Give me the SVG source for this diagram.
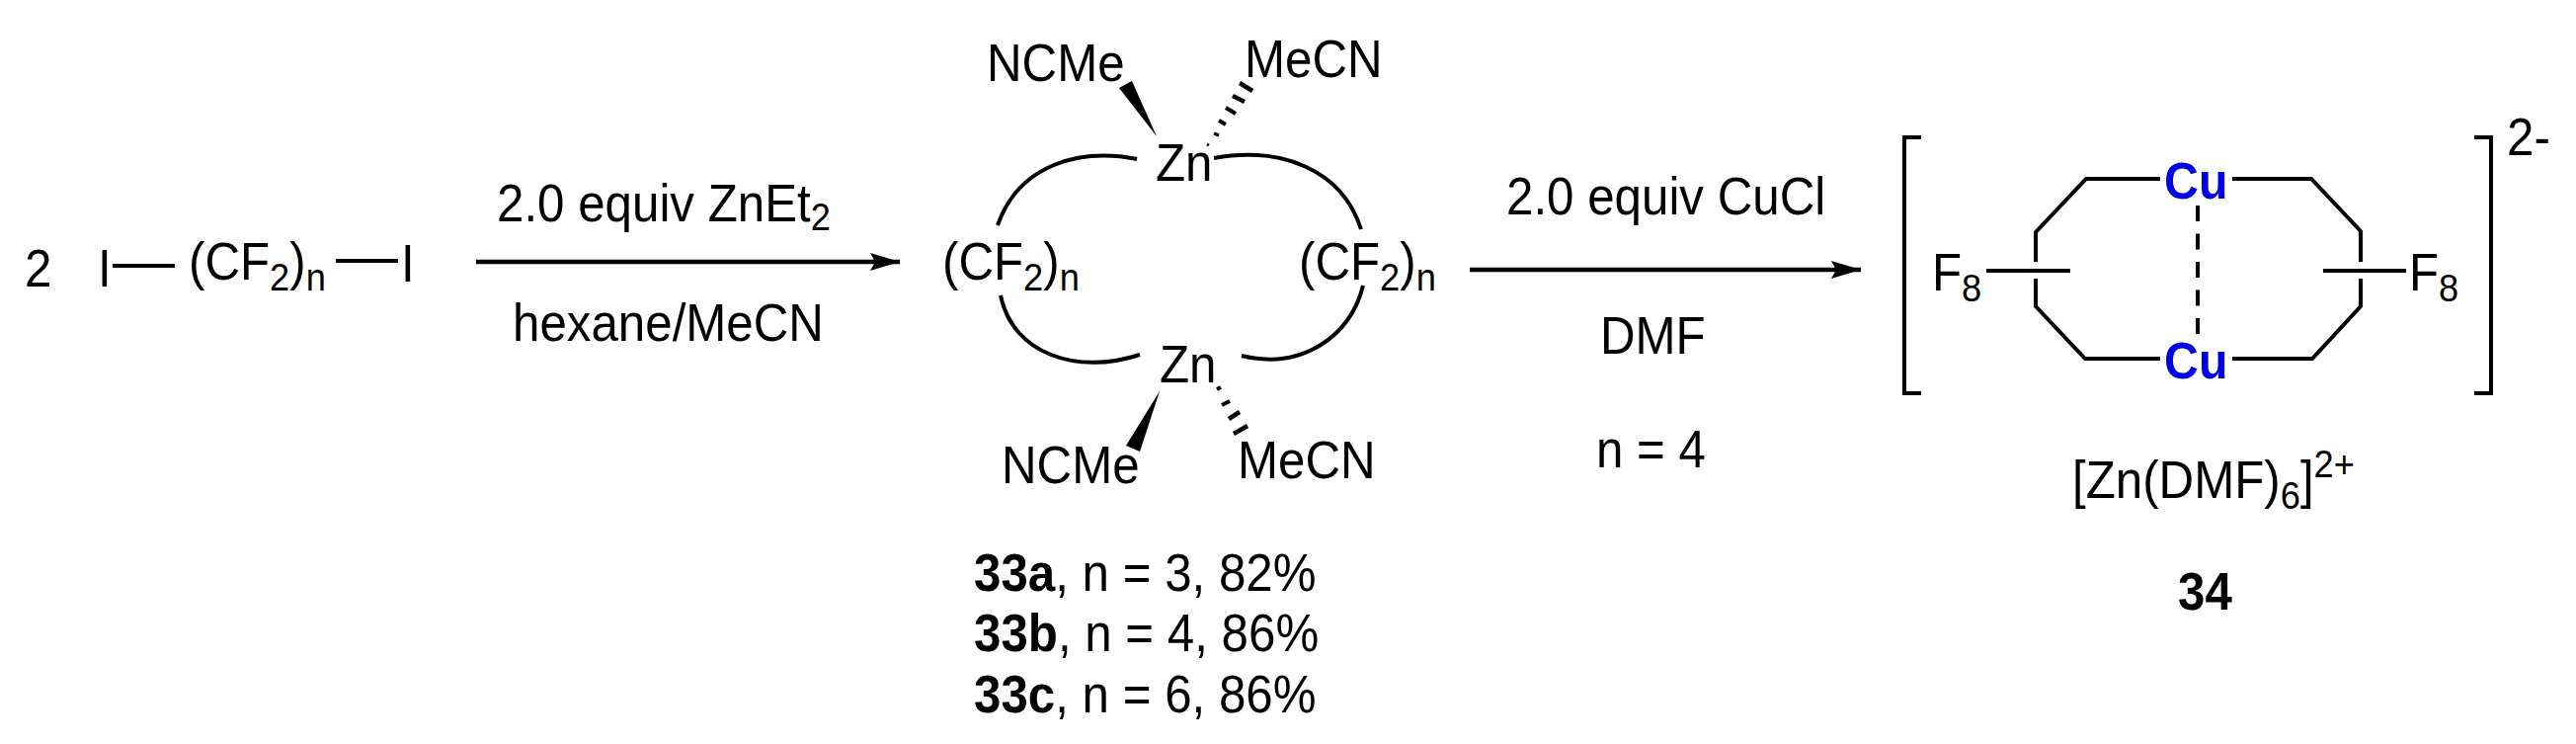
<svg xmlns="http://www.w3.org/2000/svg" width="2608" height="753" viewBox="0 0 2608 753">
<style>
text{font-family:"Liberation Sans",Arial,sans-serif;font-size:53px;fill:#000}
.s{font-size:39px}
.b{font-weight:bold}
.cu{font-weight:bold;fill:#0000e6;font-size:52px}
.bond{stroke:#000;stroke-width:4;fill:none}
.hash{stroke:#000;fill:none}
.arrow{stroke:#000;stroke-width:4.5;fill:none;marker-end:url(#head)}
</style>
<defs>
<marker id="head" markerUnits="userSpaceOnUse" markerWidth="32" markerHeight="20" refX="30" refY="10" orient="auto">
<path d="M0,1 L30,10 L0,19 L5,10 Z" fill="#000"/>
</marker>
</defs>
<rect width="2608" height="753" fill="#fff"/>
<g id="connectors">
<path class="arrow" d="M482,265 H911"/>
<path class="arrow" d="M1488,273 H1884"/>
</g>
<g id="reactant">
<text transform="matrix(.93 0 0 1 25 290)">2</text>
<text transform="matrix(.93 0 0 1 99 290)">I</text>
<path class="bond" d="M114,269 H177"/>
<text transform="matrix(.93 0 0 1 191 283)">(CF<tspan class="s" dy="11">2</tspan><tspan dy="-11">)</tspan><tspan class="s" dy="11">n</tspan></text>
<path class="bond" d="M340,264 H403"/>
<text transform="matrix(.93 0 0 1 406 285)">I</text>
</g>
<g id="reagents1">
<text transform="matrix(.93 0 0 1 503 224)">2.0 equiv ZnEt<tspan class="s" dy="9">2</tspan></text>
<text transform="matrix(.93 0 0 1 519 345)">hexane/MeCN</text>
</g>
<g id="zn-complex">
<text transform="matrix(.93 0 0 1 999 82)">NCMe</text>
<text transform="matrix(.93 0 0 1 1260 78)">MeCN</text>
<text transform="matrix(.93 0 0 1 1170 183)">Zn</text>
<text transform="matrix(.93 0 0 1 1174 387)">Zn</text>
<text transform="matrix(.93 0 0 1 954 283)">(CF<tspan class="s" dy="11">2</tspan><tspan dy="-11">)</tspan><tspan class="s" dy="11">n</tspan></text>
<text transform="matrix(.93 0 0 1 1315 283)">(CF<tspan class="s" dy="11">2</tspan><tspan dy="-11">)</tspan><tspan class="s" dy="11">n</tspan></text>
<text transform="matrix(.93 0 0 1 1014 489)">NCMe</text>
<text transform="matrix(.93 0 0 1 1253 484)">MeCN</text>
<path class="bond" d="M1151,161 C1095,150 1032,165 1010,228"/>
<path class="bond" d="M1229,160 C1295,148 1358,170 1378,232"/>
<path class="bond" d="M1013,299 C1025,358 1090,380 1154,359"/>
<path class="bond" d="M1257,360 C1318,375 1368,340 1380,289"/>
<polygon points="1171,138 1133,89 1146,82" fill="#000"/>
<polygon points="1174,396 1140,451 1154,457" fill="#000"/>
<g class="hash">
<path stroke-width="3" d="M1222,146 L1224,147"/>
<path stroke-width="3.5" d="M1229,135 L1234,137"/>
<path stroke-width="4" d="M1234,122 L1241,126"/>
<path stroke-width="4" d="M1241,109 L1251,115"/>
<path stroke-width="4.5" d="M1248,97 L1260,103"/>
<path stroke-width="4.5" d="M1255,84 L1268,92"/>
<path stroke-width="4" d="M1232,394 L1236,392"/>
<path stroke-width="4" d="M1237,410 L1245,406"/>
<path stroke-width="4.5" d="M1244,424 L1255,417"/>
<path stroke-width="4.5" d="M1249,439 L1263,431"/>
</g>
</g>
<g id="yields">
<text transform="matrix(.93 0 0 1 986 598)"><tspan class="b">33a</tspan>, n = 3, 82%</text>
<text transform="matrix(.93 0 0 1 986 659)"><tspan class="b">33b</tspan>, n = 4, 86%</text>
<text transform="matrix(.93 0 0 1 986 721)"><tspan class="b">33c</tspan>, n = 6, 86%</text>
</g>
<g id="reagents2">
<text transform="matrix(.93 0 0 1 1525 217)">2.0 equiv CuCl</text>
<text transform="matrix(.93 0 0 1 1620 358)">DMF</text>
<text transform="matrix(.93 0 0 1 1616 473)">n = 4</text>
</g>
<g id="cu-complex">
<path class="bond" d="M1945,139 H1928 V398 H1945"/>
<path class="bond" d="M2505,139 H2522 V398 H2505"/>
<text transform="matrix(.93 0 0 1 2538 157)">2-</text>
<text class="cu" transform="matrix(.93 0 0 1 2191 201)">Cu</text>
<text class="cu" transform="matrix(.93 0 0 1 2191 383)">Cu</text>
<path class="bond" d="M2187,181 H2112 L2061,235 V265"/>
<path class="bond" d="M2061,282 V310 L2111,363 H2187"/>
<path class="bond" d="M2260,181 H2340 L2390,234 V265"/>
<path class="bond" d="M2260,363 H2341 L2390,310 V282"/>
<path class="bond" d="M2011,274 H2096"/>
<path class="bond" d="M2352,274 H2436"/>
<path class="bond" d="M2225,208 V338" stroke-dasharray="16 12.5"/>
<text transform="matrix(.93 0 0 1 1956 294)">F<tspan class="s" dy="11">8</tspan></text>
<text transform="matrix(.93 0 0 1 2439 294)">F<tspan class="s" dy="11">8</tspan></text>
<text transform="matrix(.93 0 0 1 2098 504)">[Zn(DMF)<tspan class="s" dy="11">6</tspan><tspan dy="-11">]</tspan><tspan class="s" dy="-21">2+</tspan></text>
<text class="b" transform="matrix(.93 0 0 1 2205 617)">34</text>
</g>
</svg>
